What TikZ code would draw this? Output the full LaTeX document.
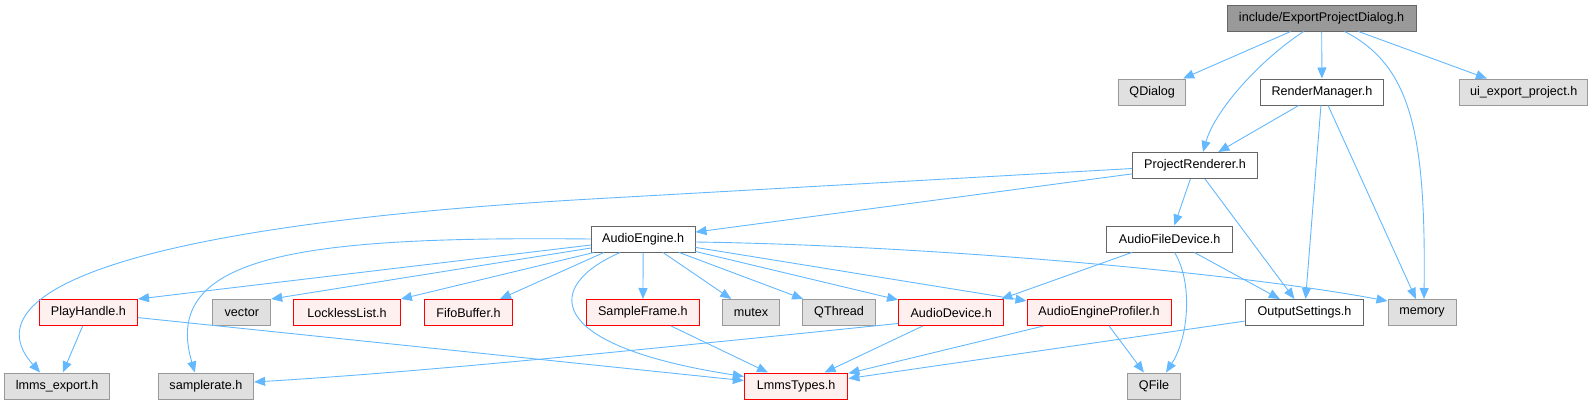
\documentclass[tikz,border=0pt]{standalone}
\usepackage{fontspec}
\setmainfont{Liberation Sans}
\usetikzlibrary{arrows.meta,calc}
\definecolor{edgeblue}{HTML}{63B8FF}
\definecolor{topgray}{HTML}{999999}
\definecolor{darkborder}{HTML}{666666}
\definecolor{sysgray}{HTML}{E0E0E0}
\definecolor{sysborder}{HTML}{999999}
\definecolor{redfill}{HTML}{FFF0F0}
\definecolor{redborder}{HTML}{FF0000}
\begin{document}
\begin{tikzpicture}[x=1pt,y=-1pt,
  box/.style={draw, line width=1pt, minimum height=26pt, inner sep=0pt, font=\fontsize{12.6}{14}\selectfont, anchor=center},
  topbox/.style={box, fill=topgray, draw=darkborder},
  plainbox/.style={box, fill=white, draw=darkborder},
  sysbox/.style={box, fill=sysgray, draw=sysborder},
  redbox/.style={box, fill=redfill, draw=redborder},
  edge/.style={draw=edgeblue, line width=0.9pt, -{Triangle[length=11pt,width=9pt]}}]
\useasboundingbox (0,0) rectangle (1595,405);
% nodes
\node[topbox, minimum width=189pt] (EPD) at (1321.6,18) {include/ExportProjectDialog.h};
\node[sysbox, minimum width=67pt] (QD) at (1152.2,92) {QDialog};
\node[plainbox, minimum width=123pt] (RM) at (1322,92) {RenderManager.h};
\node[sysbox, minimum width=127.5pt] (UI) at (1523.7,92) {ui\_export\_project.h};
\node[plainbox, minimum width=124.6pt] (PR) at (1195,165.5) {ProjectRenderer.h};
\node[plainbox, minimum width=103.6pt] (AE) at (643.2,239) {AudioEngine.h};
\node[plainbox, minimum width=126.4pt] (AFD) at (1169.7,239) {AudioFileDevice.h};
\node[redbox, minimum width=98.2pt] (PH) at (88.4,312.5) {PlayHandle.h};
\node[sysbox, minimum width=57.8pt] (VEC) at (241.8,312.5) {vector};
\node[redbox, minimum width=106.8pt] (LL) at (347,312.5) {LocklessList.h};
\node[redbox, minimum width=88.2pt] (FB) at (468.4,312.5) {FifoBuffer.h};
\node[redbox, minimum width=112.9pt] (SF) at (642.9,312.5) {SampleFrame.h};
\node[sysbox, minimum width=57pt] (MUT) at (751,312.5) {mutex};
\node[sysbox, minimum width=72.5pt] (QT) at (839.1,312.5) {QThread};
\node[redbox, minimum width=105.3pt] (AD) at (951.2,312.5) {AudioDevice.h};
\node[redbox, minimum width=144pt] (AEP) at (1099,312.5) {AudioEngineProfiler.h};
\node[plainbox, minimum width=118.9pt] (OS) at (1304.5,312.5) {OutputSettings.h};
\node[sysbox, minimum width=68pt] (MEM) at (1422,312.5) {memory};
\node[sysbox, minimum width=105.7pt] (LE) at (57.1,386) {lmms\_export.h};
\node[sysbox, minimum width=95.4pt] (SR) at (205.9,386) {samplerate.h};
\node[redbox, minimum width=103.6pt] (LT) at (796.1,386) {LmmsTypes.h};
\node[sysbox, minimum width=52.4pt] (QF) at (1154,386) {QFile};
% edges from ExportProjectDialog
\draw[edge] (EPD) -- (QD);
\draw[edge] ([xshift=-18pt]EPD.south) .. controls (1260,60) and (1215,110) .. ([xshift=8pt]PR.north);
\draw[edge] (EPD) -- (RM);
\draw[edge] ([xshift=23pt]EPD.south) .. controls (1410,65) and (1426,130) .. ([xshift=2pt]MEM.north);
\draw[edge] (EPD) -- (UI);
% RenderManager
\draw[edge] (RM) -- (PR);
\draw[edge] (RM) -- (OS);
\draw[edge] (RM) -- (MEM);
% ProjectRenderer
\draw[edge] ([yshift=-3pt]PR.west) -- (600,198.5) .. controls (90,227) and (-25,300) .. ([xshift=-17pt]LE.north);
\draw[edge] (PR) -- (AE);
\draw[edge] (PR) -- (AFD);
\draw[edge] (PR) -- (OS);
% AudioEngine
\draw[edge] ([yshift=-6pt]AE.west) -- (PH.north east);
\draw[edge] ([yshift=-9pt]AE.west) -- (VEC.north east);
\draw[edge] ([xshift=3pt]AE.south west) -- (LL.north east);
\draw[edge] ([xshift=13pt]AE.south west) -- ([xshift=31.6pt]FB.north);
\draw[edge] (AE.west) .. controls (300,236) and (160,255) .. ([xshift=-11pt]SR.north);
\draw[edge] ([xshift=-23pt]AE.south) .. controls (545,285) and (540,345) .. ([yshift=-4pt]LT.north west);
\draw[edge] (AE) -- (SF);
\draw[edge] (AE) -- (MUT);
\draw[edge] (AE) -- (QT);
\draw[edge] (AE) -- (AD);
\draw[edge] (AE) -- (AEP);
\draw[edge] ([yshift=-3pt]AE.east) .. controls (910,245) and (1220,270) .. ([yshift=-2pt]MEM.north west);
% AudioFileDevice
\draw[edge] (AFD) -- ([xshift=-3pt]AD.north east);
\draw[edge] (AFD) -- (OS);
\draw[edge] ([xshift=4.8pt]AFD.south) .. controls (1192,280) and (1190,335) .. ([xshift=12pt]QF.north);
% lower level
\draw[edge] (PH) -- (LE);
\draw[edge] (PH) -- (LT);
\draw[edge] (SF) -- (LT);
\draw[edge] (AD) -- (LT);
\draw[edge] ([yshift=-11pt]AD.west) .. controls (620,352) and (420,372) .. ([yshift=4pt]SR.east);
\draw[edge] (AEP) -- (LT);
\draw[edge] (AEP) -- (QF);
\draw[edge] (OS) -- (LT);
\end{tikzpicture}
\end{document}
